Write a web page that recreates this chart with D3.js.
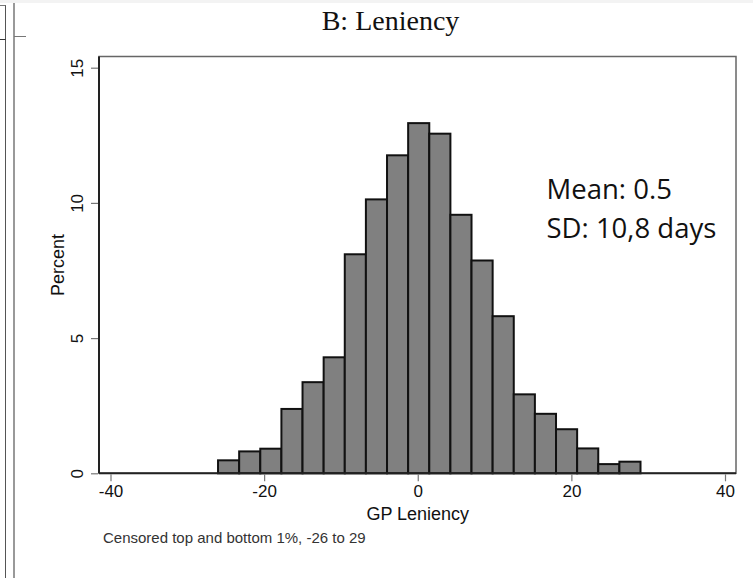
<!DOCTYPE html>
<html><head><meta charset="utf-8">
<script src="https://cdn.jsdelivr.net/npm/d3@7"></script>
<style>body{margin:0;background:#fff;}svg{display:block;}</style>
</head><body>
<svg id="chart" width="753" height="578"></svg>
<script>
const binStart = -26;
const binWidth = 2.75;
const percents = [0.48, 0.81, 0.91, 2.38, 3.37, 4.29, 8.10, 10.13, 11.76, 12.95, 12.56, 9.56, 7.87, 5.81, 2.92, 2.20, 1.63, 0.92, 0.34, 0.43];
const xTicks = [-40, -20, 0, 20, 40];
const yTicks = [0, 5, 10, 15];
const title = "B: Leniency";
const xLabel = "GP Leniency";
const yLabel = "Percent";
const note = "Censored top and bottom 1%, -26 to 29";
const statLines = ["Mean: 0.5", "SD: 10,8 days"];

const svg = d3.select("#chart");
// page decorations
svg.append("rect").attr("x",0).attr("y",0).attr("width",753).attr("height",3).attr("fill","#f3f3f3");
svg.append("line").attr("x1",5.5).attr("x2",5.5).attr("y1",5).attr("y2",578).attr("stroke","#555").attr("stroke-width",1);
svg.append("line").attr("x1",0).attr("x2",5.5).attr("y1",5.5).attr("y2",5.5).attr("stroke","#777").attr("stroke-width",1);
svg.append("line").attr("x1",0).attr("x2",5.5).attr("y1",39.5).attr("y2",39.5).attr("stroke","#333").attr("stroke-width",1);
svg.append("line").attr("x1",14).attr("x2",14).attr("y1",3).attr("y2",578).attr("stroke","#999").attr("stroke-width",2);
svg.append("line").attr("x1",14).attr("x2",26).attr("y1",36.5).attr("y2",36.5).attr("stroke","#777").attr("stroke-width",1);

const x = d3.scaleLinear().domain([-40, 40]).range([110.5, 725]);
const y = d3.scaleLinear().domain([0, 15]).range([473.3, 67.7]);
const frame = {l: 99, r: 736, t: 56.5, b: 473.3};

// plot region frame
svg.append("rect").attr("x",frame.l).attr("y",frame.t).attr("width",frame.r-frame.l).attr("height",frame.b-frame.t)
  .attr("fill","none").attr("stroke","#666").attr("stroke-width",1.5);

// bars
const bins = percents.map((v,i)=>({x0: binStart + i*binWidth, x1: binStart + (i+1)*binWidth, v}));
svg.append("g").selectAll("rect").data(bins).join("rect")
  .attr("x", d=>x(d.x0)).attr("width", d=>x(d.x1)-x(d.x0))
  .attr("y", d=>y(d.v)).attr("height", d=>y(0)-y(d.v))
  .attr("fill","#808080").attr("stroke","#111").attr("stroke-width",2);

// axes lines
svg.append("line").attr("x1",frame.l).attr("x2",frame.l).attr("y1",frame.t).attr("y2",frame.b).attr("stroke","#222").attr("stroke-width",2);
svg.append("line").attr("x1",frame.l).attr("x2",frame.r).attr("y1",frame.b).attr("y2",frame.b).attr("stroke","#222").attr("stroke-width",2);

// x axis
const xAxis = d3.axisBottom(x).tickValues(xTicks).tickSize(7).tickPadding(4).tickFormat(d3.format("d"));
const gx = svg.append("g").attr("transform",`translate(0,${frame.b+1})`).call(xAxis);
gx.select(".domain").remove();
gx.selectAll(".tick line").attr("stroke","#777").attr("stroke-width",1.2);
gx.selectAll(".tick text").attr("font-family","'Liberation Sans', Arial, sans-serif").attr("font-size",17).attr("fill","#111")
  .text(d=>d<0?"-"+Math.abs(d):d);

// y axis
const yAxis = d3.axisLeft(y).tickValues(yTicks).tickSize(7).tickPadding(0).tickFormat(d3.format("d"));
const gy = svg.append("g").attr("transform",`translate(${frame.l-1},0)`).call(yAxis);
gy.select(".domain").remove();
gy.selectAll(".tick line").attr("stroke","#777").attr("stroke-width",1.2);
gy.selectAll(".tick text").attr("font-family","'Liberation Sans', Arial, sans-serif").attr("font-size",17).attr("fill","#111")
  .attr("x",null).attr("dy",null).attr("text-anchor","middle")
  .attr("transform","translate(-15,0) rotate(-90)");

// axis titles
svg.append("text").attr("x", x(0)).attr("y", 520).attr("text-anchor","middle")
  .attr("font-family","'Liberation Sans', Arial, sans-serif").attr("font-size",18).attr("fill","#111").text(xLabel);
svg.append("text").attr("transform",`translate(64,${(frame.t+frame.b)/2}) rotate(-90)`).attr("text-anchor","middle")
  .attr("font-family","'Liberation Sans', Arial, sans-serif").attr("font-size",18).attr("fill","#111").text(yLabel);

// title
svg.append("text").attr("x",390.5).attr("y",30).attr("text-anchor","middle")
  .attr("font-family","'Liberation Serif', 'Times New Roman', serif").attr("font-size",28).attr("fill","#111").text(title);

// note
svg.append("text").attr("x",103).attr("y",543).attr("font-family","'Liberation Sans', Arial, sans-serif")
  .attr("font-size",15).attr("fill","#333").text(note);

// stats
svg.append("g").selectAll("text").data(statLines).join("text")
  .attr("x",546.5).attr("y",(d,i)=>199 + i*39.3)
  .attr("font-family","'Open Sans', sans-serif").attr("font-size",27.5).attr("fill","#111").text(d=>d);
</script>
</body></html>
